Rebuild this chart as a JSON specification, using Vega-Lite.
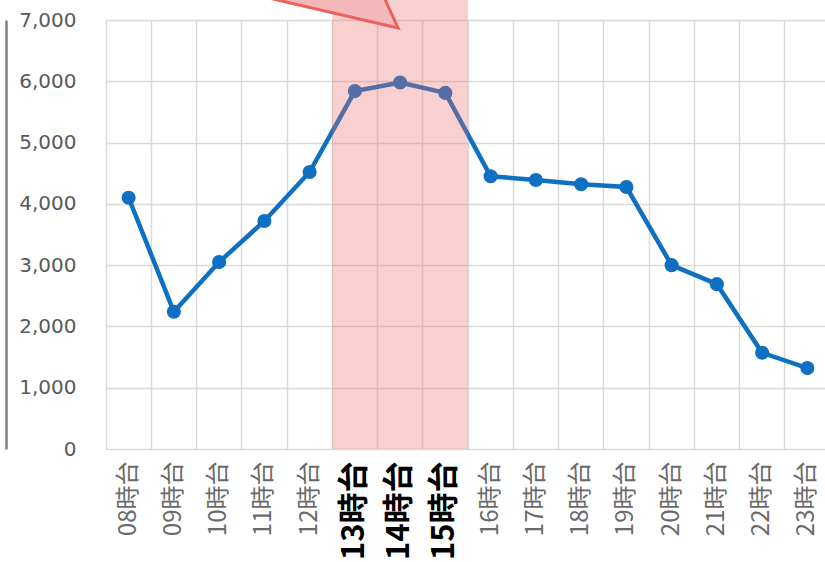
{
  "$schema": "https://vega.github.io/schema/vega-lite/v6.json",
  "autosize": "none",
  "width": 724,
  "height": 429,
  "padding": {"left": 106, "top": 20, "right": 0, "bottom": 113},
  "background": "white",
  "config": {"view": {"stroke": null}},
  "datasets": {
    "main": [
      {"hour": "08時台", "value": 4100},
      {"hour": "09時台", "value": 2240},
      {"hour": "10時台", "value": 3050},
      {"hour": "11時台", "value": 3720},
      {"hour": "12時台", "value": 4520},
      {"hour": "13時台", "value": 5840},
      {"hour": "14時台", "value": 5980},
      {"hour": "15時台", "value": 5810},
      {"hour": "16時台", "value": 4450},
      {"hour": "17時台", "value": 4390},
      {"hour": "18時台", "value": 4320},
      {"hour": "19時台", "value": 4275},
      {"hour": "20時台", "value": 3000},
      {"hour": "21時台", "value": 2690},
      {"hour": "22時台", "value": 1570},
      {"hour": "23時台", "value": 1320}
    ],
    "band": [
      {"hour": "13時台"},
      {"hour": "14時台"},
      {"hour": "15時台"}
    ]
  },
  "encoding": {
    "x": {
      "field": "hour",
      "type": "nominal",
      "sort": null,
      "title": null,
      "scale": {"paddingInner": 0, "paddingOuter": 0},
      "axis": {
        "grid": true,
        "bandPosition": 0,
        "gridColor": "#d9d9d9",
        "gridWidth": 1.5,
        "domain": false,
        "ticks": false,
        "labelAngle": -90,
        "labelAlign": "right",
        "labelBaseline": "middle",
        "labelPadding": 12,
        "labelFont": "Noto Sans CJK JP",
        "labelFontSize": {"condition": {"test": "indexof(['13時台','14時台','15時台'], datum.value) >= 0", "value": 31}, "value": 24},
        "labelFontWeight": {"condition": {"test": "indexof(['13時台','14時台','15時台'], datum.value) >= 0", "value": "bold"}, "value": "normal"},
        "labelColor": {"condition": {"test": "indexof(['13時台','14時台','15時台'], datum.value) >= 0", "value": "#000000"}, "value": "#6a6a6a"}
      }
    }
  },
  "layer": [
    {
      "data": {"name": "main"},
      "mark": {"type": "line", "color": "#0f6fc2", "strokeWidth": 4.5},
      "encoding": {
        "y": {
          "field": "value",
          "type": "quantitative",
          "title": null,
          "scale": {"domain": [0, 7000], "nice": false},
          "axis": {
            "values": [0, 1000, 2000, 3000, 4000, 5000, 6000, 7000],
            "format": ",d",
            "grid": true,
            "gridColor": "#d9d9d9",
            "gridWidth": 1.5,
            "domain": true,
            "domainColor": "#808080",
            "domainWidth": 2.5,
            "offset": 100,
            "ticks": false,
            "labelPadding": -70,
            "labelFont": "DejaVu Sans",
            "labelFontSize": 20,
            "labelColor": "#595959"
          }
        }
      }
    },
    {
      "data": {"name": "main"},
      "mark": {"type": "point", "filled": true, "opacity": 1, "color": "#0f6fc2", "size": 200},
      "encoding": {
        "y": {"field": "value", "type": "quantitative"}
      }
    },
    {
      "data": {"name": "band"},
      "mark": {"type": "rect", "color": "#e96c6c", "opacity": 0.32},
      "encoding": {
        "y": {"datum": 0},
        "y2": {"datum": 7330}
      }
    },
    {
      "data": {"values": [{"hour": "14時台", "value": 7000}]},
      "mark": {
        "type": "point",
        "filled": true,
        "shape": "M -0.04 0.16 L -4.18 -0.8 L -0.48 -0.8 Z",
        "size": 10000,
        "fill": "#f4b8b8",
        "fillOpacity": 1,
        "opacity": 1,
        "stroke": "#e9625f",
        "strokeWidth": 3
      },
      "encoding": {
        "y": {"field": "value", "type": "quantitative"}
      }
    }
  ]
}
